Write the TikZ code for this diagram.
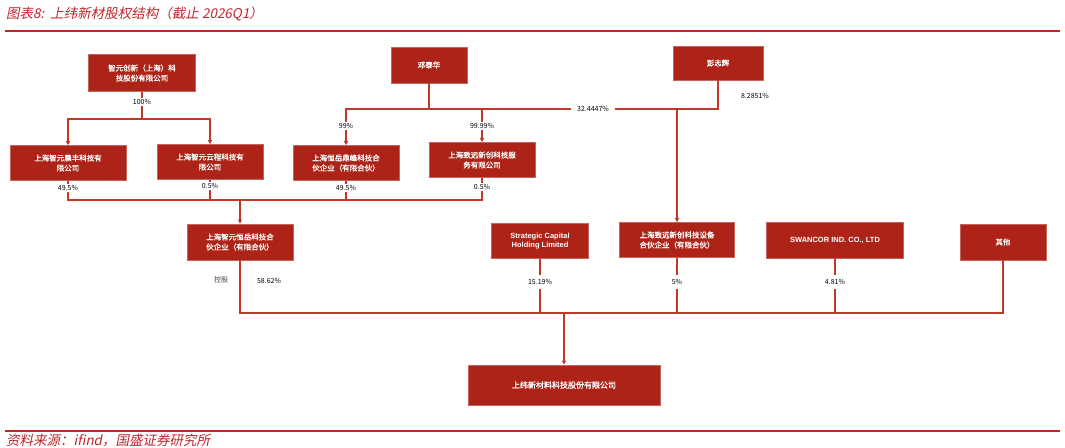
\documentclass[tikz,border=0pt]{standalone}
\usepackage{fontspec}
\setmainfont{Noto Sans CJK SC}
\newfontfamily\slantcjk[FakeSlant=0.2]{Noto Sans CJK SC}
\newfontfamily\boldcjk[FakeBold=1.2]{Noto Sans CJK SC}
\newfontfamily\lat{Liberation Sans}
\usetikzlibrary{arrows.meta}
\definecolor{boxred}{HTML}{AE2318}
\definecolor{linered}{HTML}{C0392B}
\definecolor{titlered}{HTML}{C0252B}
\begin{document}
\begin{tikzpicture}[x=1pt,y=-1pt,
  box/.style={fill=boxred,draw=boxred!70!white,line width=0.6pt,text=white,font=\boldcjk\fontsize{7.5}{10}\selectfont,align=center,inner sep=0pt},
  pct/.style={font=\fontsize{7}{8}\selectfont,text=black,inner sep=1pt,fill=white},
  ln/.style={draw=linered,line width=1.1pt},
  arr/.style={ln,-{Triangle[length=4pt,width=4pt]}}]
\useasboundingbox (0,0) rectangle (1065,447);
% title & rules
\node[anchor=west,text=titlered,font=\slantcjk\fontsize{13.5}{15}\selectfont,inner sep=0pt] (title) at (6,14) {图表8:\ \ 上纬新材股权结构（截止 2026Q1）};
\draw[titlered,line width=1.2pt] (5,31) -- (1060,31);
\draw[titlered,line width=1.2pt] (5,431) -- (1060,431);
\node[anchor=west,text=titlered,font=\slantcjk\fontsize{13.5}{15}\selectfont,inner sep=0pt] (src) at (6,440) {资料来源：ifind，国盛证券研究所};
% boxes row 1
\node[box,minimum width=107pt,minimum height=37pt] (zyc) at (142,73) {智元创新（上海）科\\技股份有限公司};
\node[box,minimum width=76pt,minimum height=36pt] (dtf) at (429,65) {邓泰华};
\node[box,minimum width=90pt,minimum height=34pt] (pzh) at (718,63) {彭志辉};
% row 2
\node[box,minimum width=116pt,minimum height=35pt] (cf) at (68,163) {上海智元晨丰科技有\\限公司};
\node[box,minimum width=106pt,minimum height=35pt] (yc) at (210,162) {上海智元云程科技有\\限公司};
\node[box,minimum width=106pt,minimum height=35pt] (hy) at (346,163) {上海恒岳鼎峰科技合\\伙企业（有限合伙）};
\node[box,minimum width=106pt,minimum height=35pt] (zyfw) at (482,160) {上海致远新创科技服\\务有限公司};
% row 3
\node[box,minimum width=106pt,minimum height=36pt] (zyhy) at (240,242) {上海智元恒岳科技合\\伙企业（有限合伙）};
\node[box,minimum width=97pt,minimum height=35pt,font=\lat\bfseries\fontsize{7.5}{9}\selectfont] (sch) at (540,241) {Strategic Capital\\Holding Limited};
\node[box,minimum width=115pt,minimum height=35pt] (zysb) at (677,240) {上海致远新创科技设备\\合伙企业（有限合伙）};
\node[box,minimum width=137pt,minimum height=36pt,font=\lat\bfseries\fontsize{7.5}{9}\selectfont] (sw) at (835,240) {SWANCOR IND. CO., LTD};
\node[box,minimum width=86pt,minimum height=36pt] (qt) at (1003,242) {其他};
% bottom
\node[box,minimum width=192pt,minimum height=40pt,font=\boldcjk\fontsize{8}{10}\selectfont] (sw2) at (564,385) {上纬新材料科技股份有限公司};
% connectors top-left
\coordinate (j1) at (142,119);
\draw[ln] (zyc.south) -- (j1);
\node[pct] (p100) at (142,102) {100\%};
\draw[arr] (j1) -| (cf.north);
\draw[arr] (j1) -| (yc.north);
% deng
\coordinate (j2) at (429,109);
\coordinate (j3) at (677,109);
\draw[ln] (dtf.south) -- (j2);
\draw[arr] (j2) -| (hy.north);
\draw[arr] (j2) -| (zyfw.north);
\draw[ln] (j2) -- (j3);
\node[pct,inner xsep=6pt] (p32) at (593,109) {32.4447\%};
\draw[ln] (pzh.south) |- (j3);
\node[pct,fill=none] (p82) at (755,96) {8.2851\%};
\draw[arr] (j3) -- (zysb.north);
\node[pct] (p99) at (346,126) {99\%};
\node[pct] (p9999) at (482,126) {99.99\%};
% row 2 to row 3
\coordinate (j4) at (240,200);
\draw[ln] (cf.south) |- (j4);
\draw[ln] (yc.south) |- (j4);
\draw[ln] (hy.south) |- (j4);
\draw[ln] (zyfw.south) |- (j4);
\draw[arr] (j4) -- (zyhy.north);
\node[pct] (a1) at (68,188) {49.5\%};
\node[pct] (a2) at (210,186) {0.5\%};
\node[pct] (a3) at (346,188) {49.5\%};
\node[pct] (a4) at (482,187) {0.5\%};
% row 3 to bottom
\coordinate (j5) at (564,313);
\draw[ln] (zyhy.south) |- (j5);
\draw[ln] (sch.south) |- (j5);
\draw[ln] (zysb.south) |- (j5);
\draw[ln] (sw.south) |- (j5);
\draw[ln] (qt.south) |- (j5);
\draw[arr] (j5) -- (sw2.north);
\node[pct,fill=none,text=black!75] (kg) at (221,280) {控股};
\node[pct,fill=none] (b1) at (269,281) {58.62\%};
\node[pct,inner ysep=4pt] (b2) at (540,282) {15.19\%};
\node[pct,inner ysep=4pt] (b3) at (677,282) {5\%};
\node[pct,inner ysep=4pt] (b4) at (835,282) {4.81\%};
\end{tikzpicture}
\end{document}
